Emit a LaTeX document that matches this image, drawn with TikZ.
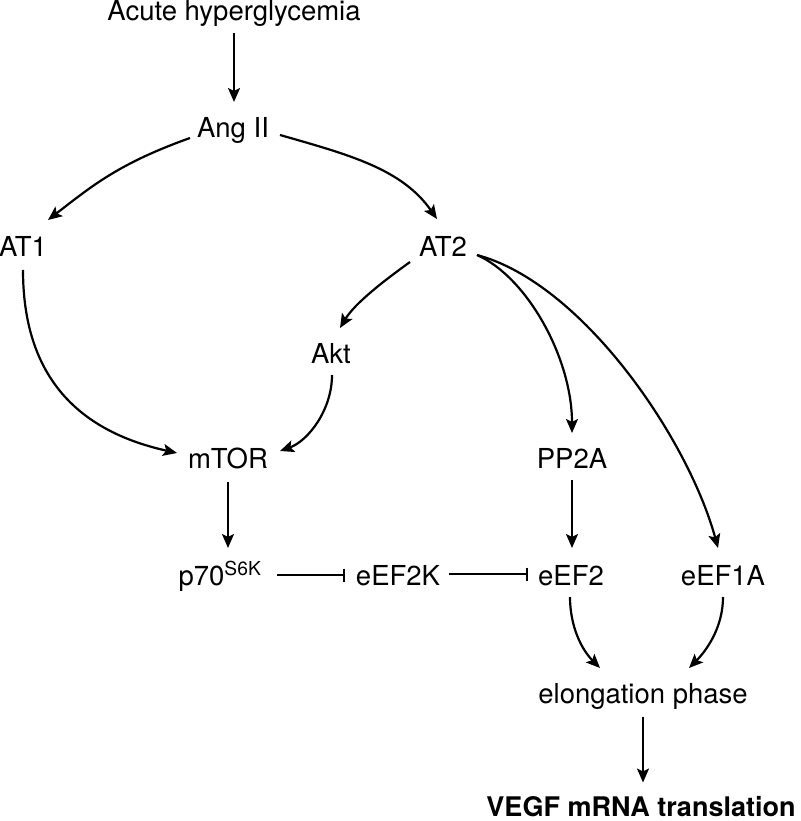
\documentclass[tikz,border=0pt]{standalone}
\usepackage{fontspec}
\setmainfont{TeX Gyre Heros}
\usetikzlibrary{arrows.meta,calc}
\tikzset{
  lbl/.style={inner sep=0pt, anchor=base, text height=20pt, text depth=6pt,
              font=\fontsize{27.5pt}{33pt}\selectfont},
  arr/.style={line width=2.2pt, -{Stealth[length=14pt,width=12pt,inset=3pt]}},
  inh/.style={line width=2.2pt, -{Bar[width=13pt,line width=2.2pt]}}
}
\begin{document}
\begin{tikzpicture}[x=1pt,y=-1pt]
\useasboundingbox (0,0) rectangle (800,821);
% nodes
\node[lbl] (acute) at (234,21) {Acute hyperglycemia};
\node[lbl] (ang) at (233,138) {Ang II};
\node[lbl] (at1) at (23,256) {AT1};
\node[lbl] (at2) at (443,256) {AT2};
\node[lbl] (akt) at (331,363) {Akt};
\node[lbl] (mtor) at (228,468) {mTOR};
\node[lbl] (pp2a) at (572,468) {PP2A};
\node[lbl] (p70) at (220,585) {p70\textsuperscript{S6K}};
\node[lbl] (eef2k) at (398,585) {eEF2K};
\node[lbl] (eef2) at (571,585) {eEF2};
\node[lbl] (eef1a) at (723,585) {eEF1A};
\node[lbl] (elong) at (643,703) {elongation phase};
\node[lbl,text depth=1pt,font=\fontsize{27pt}{33pt}\selectfont\bfseries] (vegf) at (641,816) {VEGF mRNA translation};
% connectors
\draw[arr] ($(acute)+(0,19)$) -- ($(ang)+(1,-29)$);
\draw[arr] ($(ang)+(-43,7)$) .. controls +(-70,25) and +(45,-35) .. ($(at1)+(25,-29)$);
\draw[arr] ($(ang)+(47,4)$) .. controls +(70,20) and +(-35,-50) .. ($(at2)+(-6,-30)$);
\draw[arr] ($(at1)+(0,21)$) .. controls +(0,115) and +(-90,-20) .. ($(mtor)+(-51,-8)$);
\draw[arr] ($(at2)+(-33,13)$) .. controls +(-25,18) and +(15,-25) .. ($(akt)+(9,-28)$);
\draw[arr] ($(akt)+(1,19)$) .. controls +(0,35) and +(28,-10) .. ($(mtor)+(52,-10)$);
\draw[arr] ($(at2)+(34,6)$) .. controls +(50,22) and +(0,-75) .. ($(pp2a)+(0,-28)$);
\draw[arr] ($(at2)+(34,6)$) .. controls +(105,28) and +(-30,-110) .. ($(eef1a)+(-5,-30)$);
\draw[arr] ($(mtor)+(0,21)$) -- ($(mtor |- p70)+(0,-30)$);
\draw[arr] ($(pp2a)+(0,19)$) -- ($(pp2a |- eef2)+(0,-30)$);
\draw[inh] ($(p70)+(57,-3)$) -- ($(eef2k)+(-53,-3)$);
\draw[inh] ($(eef2k)+(51,-4)$) -- ($(eef2)+(-43,-4)$);
\draw[arr] ($(eef2)+(-1,19)$) .. controls +(0,30) and +(-18,-18) .. ($(elong)+(-43,-28)$);
\draw[arr] ($(eef1a)+(0,19)$) .. controls +(0,30) and +(18,-18) .. ($(elong)+(46,-28)$);
\draw[arr] ($(elong)+(0,21)$) -- ($(elong |- vegf)+(0,-24)$);
\end{tikzpicture}
\end{document}
